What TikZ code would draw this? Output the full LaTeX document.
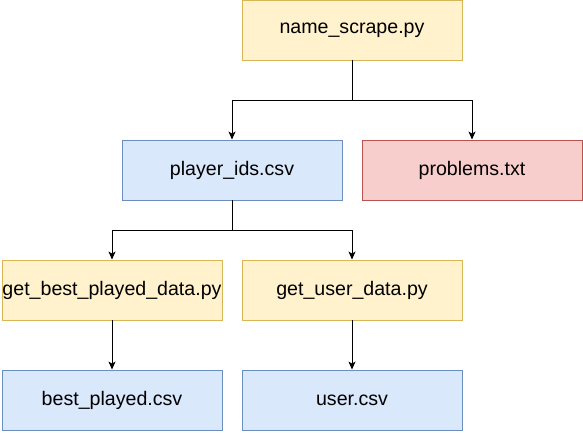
\documentclass[tikz,border=0pt]{standalone}
\usepackage{fontspec}
\setmainfont{Liberation Sans}
\usetikzlibrary{arrows.meta}
\definecolor{yfill}{HTML}{FFF2CC}
\definecolor{ydraw}{HTML}{D6B656}
\definecolor{bfill}{HTML}{DAE8FC}
\definecolor{bdraw}{HTML}{6C8EBF}
\definecolor{rfill}{HTML}{F8CECC}
\definecolor{rdraw}{HTML}{B85450}
\begin{document}
\begin{tikzpicture}[x=1pt,y=-1pt,
  box/.style={rectangle, minimum width=220pt, minimum height=60pt, inner sep=0pt, line width=0.9pt, font=\fontsize{19.6}{22}\selectfont},
  ybox/.style={box, fill=yfill, draw=ydraw},
  bbox/.style={box, fill=bfill, draw=bdraw},
  rbox/.style={box, fill=rfill, draw=rdraw},
  conn/.style={line width=0.9pt, -{Stealth[length=8pt,width=7pt,inset=2pt]}}]
\useasboundingbox (0,0) rectangle (583,432);
\node[ybox] (ns) at (352,30) {name\_scrape.py};
\node[bbox] (pid) at (232,170) {player\_ids.csv};
\node[rbox] (pr) at (472,170) {problems.txt};
\node[ybox] (gb) at (112,290) {get\_best\_played\_data.py};
\node[ybox] (gu) at (352,290) {get\_user\_data.py};
\node[bbox] (bp) at (112,400) {best\_played.csv};
\node[bbox] (uc) at (352,400) {user.csv};
\coordinate (j1) at (352,100);
\coordinate (j2) at (232,230);
\draw[conn] (ns.south) -- (j1) -| (pid.north);
\draw[conn] (ns.south) -- (j1) -| (pr.north);
\draw[conn] (pid.south) -- (j2) -| (gb.north);
\draw[conn] (pid.south) -- (j2) -| (gu.north);
\draw[conn] (gb) -- (bp);
\draw[conn] (gu) -- (uc);
\end{tikzpicture}
\end{document}
